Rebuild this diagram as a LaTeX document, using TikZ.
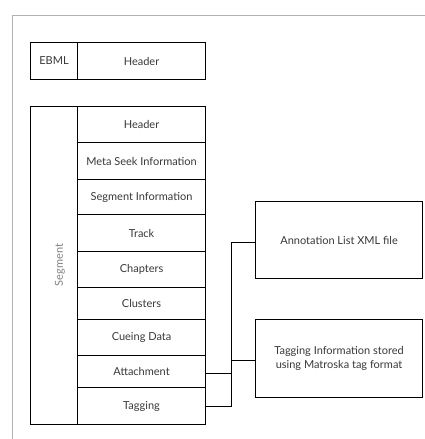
\documentclass[tikz,border=0pt]{standalone}
\usepackage{fontspec}
\setmainfont{Lato}
\begin{document}
\begin{tikzpicture}[x=1pt,y=-1pt,
  cell/.style={draw=black,line width=1.1pt,inner sep=0pt,anchor=north west,font=\fontsize{11}{13.5}\selectfont,text=black!78},
  conn/.style={draw=black,line width=0.9pt},
  frame/.style={draw=black!30,line width=1pt}]
\useasboundingbox (0,0) rectangle (425,439);
\draw[frame] (425,15) -- (12,15) -- (12,439);
% EBML
\node[cell,minimum width=47pt,minimum height=37pt] (ebml) at (30,42) {EBML};
\node[cell,minimum width=128pt,minimum height=37pt] (hdr) at (77,42) {Header};
% Segment
\node[cell,minimum width=47pt,minimum height=318pt] (seg) at (30,106) {};
\node[rotate=90,font=\fontsize{11}{13}\selectfont,text=black!50] (segl) at (60,265) {Segment};
\node[cell,minimum width=128pt,minimum height=36pt] (h2) at (77,106) {Header};
\node[cell,minimum width=128pt,minimum height=37pt] (meta) at (77,142) {Meta Seek Information};
\node[cell,minimum width=128pt,minimum height=35pt] (seginf) at (77,179) {Segment Information};
\node[cell,minimum width=128pt,minimum height=37pt] (track) at (77,214) {Track};
\node[cell,minimum width=128pt,minimum height=36pt] (chap) at (77,251) {Chapters};
\node[cell,minimum width=128pt,minimum height=32pt] (clus) at (77,287) {Clusters};
\node[cell,minimum width=128pt,minimum height=36pt] (cue) at (77,319) {Cueing Data};
\node[cell,minimum width=128pt,minimum height=32pt] (att) at (77,355) {Attachment};
\node[cell,minimum width=128pt,minimum height=37pt] (tag) at (77,387) {Tagging};
% right boxes
\node[cell,minimum width=167pt,minimum height=77pt] (ann) at (255,201) {Annotation List XML file};
\node[cell,minimum width=167pt,minimum height=78pt,align=center] (tinfo) at (255,319) {Tagging Information stored\\using Matroska tag format};
% connectors
\coordinate (j1) at (231,373);
\coordinate (j2) at (231,406);
\coordinate (j3) at (231,242);
\coordinate (j4) at (231,360);
\draw[conn] (att.east |- j1) -- (j1);
\draw[conn] (tag.east |- j2) -- (j2) -- (j3) -- (ann.west |- j3);
\draw[conn] (j4) -- (tinfo.west |- j4);
\end{tikzpicture}
\end{document}
